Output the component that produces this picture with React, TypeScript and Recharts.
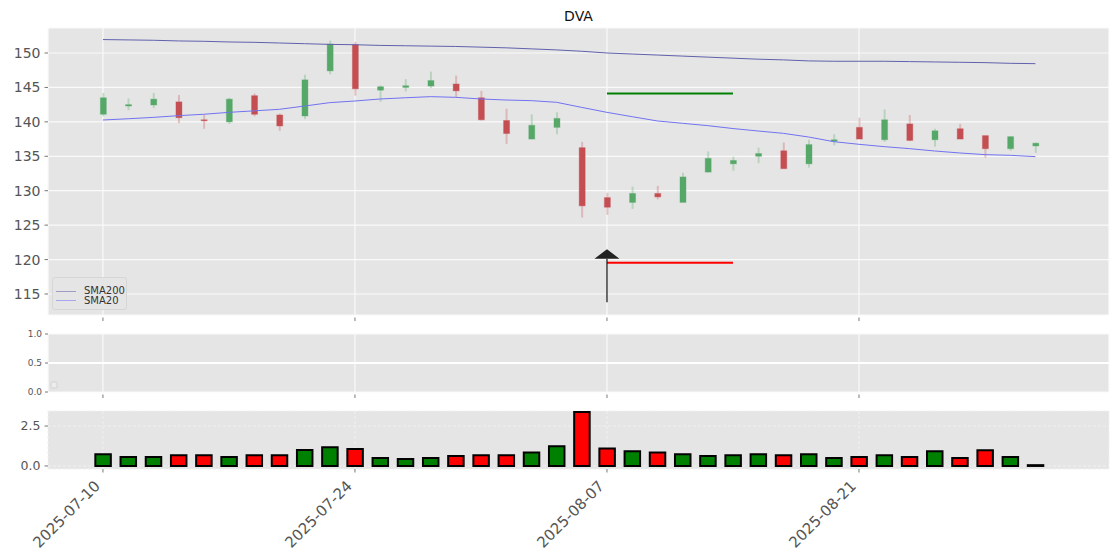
import {
  Bar,
  CartesianGrid,
  Cell,
  ComposedChart,
  Legend,
  Line,
  ReferenceDot,
  ReferenceLine,
  XAxis,
  YAxis,
} from "recharts";

const dates = [
  "2025-07-10", "2025-07-11", "2025-07-14", "2025-07-15", "2025-07-16", "2025-07-17",
  "2025-07-18", "2025-07-21", "2025-07-22", "2025-07-23", "2025-07-24", "2025-07-25",
  "2025-07-28", "2025-07-29", "2025-07-30", "2025-07-31", "2025-08-01", "2025-08-04",
  "2025-08-05", "2025-08-06", "2025-08-07", "2025-08-08", "2025-08-11", "2025-08-12",
  "2025-08-13", "2025-08-14", "2025-08-15", "2025-08-18", "2025-08-19", "2025-08-20",
  "2025-08-21", "2025-08-22", "2025-08-25", "2025-08-26", "2025-08-27", "2025-08-28",
  "2025-08-29", "2025-09-02",
];

const opens = [
  141.1, 142.3, 142.45, 142.9, 140.3, 140.0, 143.8, 141.0, 140.85, 147.4, 151.2, 144.6,
  145.0, 145.2, 145.5, 143.5, 140.2, 137.5, 139.2, 136.25, 129.0, 128.3, 129.6, 128.3,
  132.7, 133.9, 135.0, 135.8, 133.9, 137.2, 139.2, 137.4, 139.7, 137.4, 139.0, 138.0,
  136.1, 136.5,
];
const highs = [
  144.2, 143.4, 144.2, 143.9, 141.0, 143.5, 144.1, 141.2, 146.85, 151.8, 151.6, 145.3,
  146.2, 147.3, 146.7, 144.5, 141.9, 141.1, 141.4, 137.1, 129.7, 130.6, 130.7, 132.6,
  135.7, 134.95, 136.25, 137.0, 137.4, 138.2, 140.6, 141.8, 141.0, 139.0, 139.7, 138.0,
  137.9, 137.0,
];
const lows = [
  140.8, 141.7, 142.0, 139.8, 139.0, 139.7, 140.8, 138.7, 140.4, 146.9, 143.8, 142.9,
  144.4, 144.9, 143.6, 140.2, 136.8, 137.5, 138.2, 126.1, 126.5, 127.35, 128.75, 128.3,
  132.7, 132.9, 134.0, 133.2, 133.35, 136.6, 137.5, 137.1, 137.2, 136.4, 137.5, 134.8,
  135.8, 135.5,
];
const closes = [
  143.5, 142.5, 143.3, 140.6, 140.2, 143.3, 141.1, 139.4, 146.1, 151.3, 144.8, 145.1,
  145.25, 146.0, 144.5, 140.3, 138.3, 139.5, 140.5, 127.8, 127.6, 129.6, 129.1, 132.0,
  134.7, 134.4, 135.4, 133.2, 136.7, 137.4, 137.5, 140.3, 137.3, 138.7, 137.5, 136.1,
  137.85, 136.9,
];
const sma200 = [
  151.95, 151.9, 151.85, 151.75, 151.7, 151.6, 151.55, 151.45, 151.35, 151.25, 151.2, 151.1,
  151.05, 151.0, 150.95, 150.85, 150.75, 150.6, 150.45, 150.25, 150.0, 149.85, 149.7, 149.55,
  149.4, 149.25, 149.1, 149.0, 148.85, 148.8, 148.8, 148.8, 148.75, 148.7, 148.65, 148.6,
  148.5, 148.45,
];
const sma20 = [
  140.27, 140.45, 140.65, 140.9, 141.1, 141.38, 141.6, 141.82, 142.3, 142.79, 143.03, 143.32,
  143.5, 143.66, 143.56, 143.32, 143.17, 143.08, 142.84, 142.1, 141.38, 140.75, 140.13, 139.79,
  139.45, 139.03, 138.67, 138.33, 137.8, 137.12, 136.74, 136.4, 136.11, 135.77, 135.48, 135.24,
  135.14, 134.95,
];
const volumes = [
  0.73, 0.56, 0.56, 0.67, 0.67, 0.56, 0.67, 0.67, 1.0, 1.17, 1.06, 0.5, 0.44, 0.5, 0.63, 0.67,
  0.67, 0.85, 1.23, 3.38, 1.1, 0.92, 0.85, 0.73, 0.63, 0.67, 0.73, 0.67, 0.73, 0.5, 0.56, 0.67,
  0.56, 0.92, 0.5, 0.98, 0.56, 0.05,
];

const xTicks = [0, 10, 20, 30];
const priceTicks = [115, 120, 125, 130, 135, 140, 145, 150];
const emptyTicks = [0, 0.5, 1];
const volumeTicks = [0, 2.5];
const legendOrder = ["SMA200", "SMA20"];

// target / stop markers
const targetLine = { from: 20, to: 25, price: 144.1 };
const stopLine = { from: 20, to: 25, price: 119.55 };
const signalArrow = { at: 20, tail: 113.8, head: 120.13 };

const X_DOMAIN: [number, number] = [-2.18, 39.92];
const UP = "#55a868";
const DOWN = "#c44e52";
const TICK = "#555";

const rows = dates.map((date, i) => ({
  i,
  date,
  open: opens[i],
  high: highs[i],
  low: lows[i],
  close: closes[i],
  sma200: sma200[i],
  sma20: sma20[i],
  volume: volumes[i],
}));

function Candle(props: any) {
  const { x, y, width, height, payload } = props;
  if (!payload || height == null) return null;
  const { open, close, high, low } = payload;
  const ppu = height / (high - low || 1);
  const cx = x + width / 2;
  const top = y + (high - Math.max(open, close)) * ppu;
  const bottom = y + (high - Math.min(open, close)) * ppu;
  const color = close >= open ? UP : DOWN;
  return (
    <g>
      <line x1={cx} x2={cx} y1={y} y2={y + height} stroke={color} strokeOpacity={0.3} strokeWidth={2} />
      <rect
        x={cx - 3}
        y={top}
        width={6}
        height={Math.max(bottom - top, 1)}
        fill={color}
        stroke={color}
        strokeOpacity={0.35}
        strokeWidth={1}
      />
    </g>
  );
}

function ArrowHead(props: any) {
  const { cx, cy } = props;
  return <polygon points={`${cx - 12.5},${cy} ${cx + 12.5},${cy} ${cx},${cy - 9.4}`} fill="#222" />;
}

function SmallTick(props: any) {
  const { x, y } = props;
  return <line x1={x} x2={x} y1={y - 5.5} y2={y - 2} stroke={TICK} strokeWidth={0.8} />;
}

function DateTick(props: any) {
  const { x, y, payload } = props;
  const ex = x - 2;
  const ey = y + 12.5;
  return (
    <text x={ex} y={ey} transform={`rotate(-45, ${ex}, ${ey})`} textAnchor="end" fill={TICK} fontSize={15}>
      {dates[payload.value]}
    </text>
  );
}

function SmaLegend({ payload }: any) {
  const items = (payload || [])
    .filter((p: any) => legendOrder.includes(p.value))
    .sort((a: any, b: any) => legendOrder.indexOf(a.value) - legendOrder.indexOf(b.value));
  return (
    <div
      style={{
        width: 73,
        height: 31,
        background: "#e5e5e5",
        border: "1px solid #d6d6d6",
        borderRadius: 3,
        position: "relative",
        fontSize: 10,
        color: "#333",
      }}
    >
      {items.map((p: any, k: number) => (
        <div key={p.value} style={{ position: "absolute", left: 3, top: 8 + k * 9.6, height: 10, display: "flex", alignItems: "center" }}>
          <span style={{ display: "inline-block", width: 20, height: 0, borderTop: `1.5px solid ${p.color}`, opacity: 0.55 }} />
          <span style={{ marginLeft: 8, lineHeight: "10px" }}>{p.value}</span>
        </div>
      ))}
    </div>
  );
}

export default function App() {
  return (
    <div
      style={{
        position: "absolute",
        left: 0,
        top: 0,
        width: 1120,
        height: 560,
        background: "#fff",
        fontFamily: "'DejaVu Sans', sans-serif",
      }}
    >
      <div style={{ position: "absolute", left: 0, top: 0 }}>
        <ComposedChart width={1120} height={322} data={rows} margin={{ top: 28, right: 11, bottom: 0, left: 0 }}>
          <CartesianGrid fill="#e5e5e5" fillOpacity={1} stroke="#fafafa" strokeWidth={1.2} />
          <XAxis
            dataKey="i"
            type="number"
            domain={X_DOMAIN}
            allowDataOverflow
            ticks={xTicks}
            height={7}
            axisLine={false}
            tickLine={false}
            tickSize={0}
            tickMargin={8}
            tick={<SmallTick />}
          />
          <YAxis
            type="number"
            domain={[111.95, 153.63]}
            allowDataOverflow
            ticks={priceTicks}
            width={48}
            axisLine={false}
            tickSize={3.5}
            tickMargin={4}
            tickLine={{ stroke: TICK, strokeWidth: 0.8 }}
            tick={{ fill: TICK, fontSize: 14 }}
          />
          <Bar
            dataKey={(d: any) => [d.low, d.high]}
            barSize={8}
            shape={<Candle />}
            legendType="none"
            isAnimationActive={false}
          />
          <Line
            dataKey="sma200"
            name="SMA200"
            stroke="#6161ad"
            strokeWidth={1}
            dot={false}
            activeDot={false}
            isAnimationActive={false}
          />
          <Line
            dataKey="sma20"
            name="SMA20"
            stroke="#7272f2"
            strokeWidth={1}
            dot={false}
            activeDot={false}
            isAnimationActive={false}
          />
          <ReferenceLine
            segment={[
              { x: targetLine.from, y: targetLine.price },
              { x: targetLine.to, y: targetLine.price },
            ]}
            stroke="#008000"
            strokeWidth={2}
          />
          <ReferenceLine
            segment={[
              { x: stopLine.from, y: stopLine.price },
              { x: stopLine.to, y: stopLine.price },
            ]}
            stroke="#ff0000"
            strokeWidth={2}
          />
          <ReferenceLine
            segment={[
              { x: signalArrow.at, y: signalArrow.tail },
              { x: signalArrow.at, y: signalArrow.head },
            ]}
            stroke="#111"
            strokeWidth={1.2}
          />
          <ReferenceDot x={signalArrow.at} y={signalArrow.head} r={1} shape={<ArrowHead />} />
          <Legend
            layout="vertical"
            align="center"
            verticalAlign="middle"
            wrapperStyle={{ left: 52, top: 277, width: 75, height: 33 }}
            content={<SmaLegend />}
          />
        </ComposedChart>
      </div>

      <div style={{ position: "absolute", left: 0, top: 326 }}>
        <ComposedChart width={1120} height={74} data={rows} margin={{ top: 8, right: 11, bottom: 0, left: 0 }}>
          <CartesianGrid fill="#e5e5e5" fillOpacity={1} stroke="#fafafa" strokeWidth={1.2} />
          <XAxis
            dataKey="i"
            type="number"
            domain={X_DOMAIN}
            allowDataOverflow
            ticks={xTicks}
            height={8}
            axisLine={false}
            tickLine={false}
            tickSize={0}
            tickMargin={8}
            tick={<SmallTick />}
          />
          <YAxis
            type="number"
            domain={[0, 1]}
            allowDataOverflow
            ticks={emptyTicks}
            tickFormatter={(v: number) => v.toFixed(1)}
            width={48}
            axisLine={false}
            tickSize={3}
            tickMargin={3}
            tickLine={{ stroke: TICK, strokeWidth: 0.8 }}
            tick={{ fill: TICK, fontSize: 9 }}
          />
          {/* empty indicator panel: invisible series so the axis gets drawn */}
          <Line
            dataKey={() => emptyTicks[1]}
            stroke="transparent"
            dot={false}
            activeDot={false}
            legendType="none"
            isAnimationActive={false}
          />
          <ReferenceLine y={emptyTicks[1]} stroke="#ffffff" strokeWidth={2} ifOverflow="visible" />
        </ComposedChart>
      </div>

      <div style={{ position: "absolute", left: 0, top: 402 }}>
        <ComposedChart width={1120} height={158} data={rows} margin={{ top: 9, right: 11, bottom: 0, left: 0 }}>
          <CartesianGrid fill="#e5e5e5" fillOpacity={1} stroke="#f0f0f0" strokeWidth={1} strokeDasharray="3 2" />
          <XAxis
            dataKey="i"
            type="number"
            domain={X_DOMAIN}
            allowDataOverflow
            ticks={xTicks}
            height={91}
            axisLine={false}
            tickSize={3.5}
            tickMargin={2}
            tickLine={{ stroke: TICK, strokeWidth: 0.8 }}
            tick={<DateTick />}
          />
          <YAxis
            type="number"
            domain={[-0.19, 3.44]}
            allowDataOverflow
            ticks={volumeTicks}
            tickFormatter={(v: number) => v.toFixed(1)}
            width={48}
            axisLine={false}
            tickSize={3.5}
            tickMargin={4}
            tickLine={{ stroke: TICK, strokeWidth: 0.8 }}
            tick={{ fill: TICK, fontSize: 12.5 }}
          />
          <Bar dataKey="volume" barSize={15.5} stroke="#000" strokeWidth={2} isAnimationActive={false}>
            {rows.map((r) => (
              <Cell key={r.date} fill={r.close >= r.open ? "#008000" : "#ff0000"} />
            ))}
          </Bar>
        </ComposedChart>
      </div>

      <svg width={1120} height={560} style={{ position: "absolute", left: 0, top: 0, pointerEvents: "none" }}>
        <text x={578.5} y={20.7} textAnchor="middle" fontSize={14} fill="#111">
          DVA
        </text>
        <rect x={51} y={382} width={6} height={6} rx={1} fill="#ececec" stroke="#d2d2d2" strokeWidth={1} />
      </svg>
    </div>
  );
}
